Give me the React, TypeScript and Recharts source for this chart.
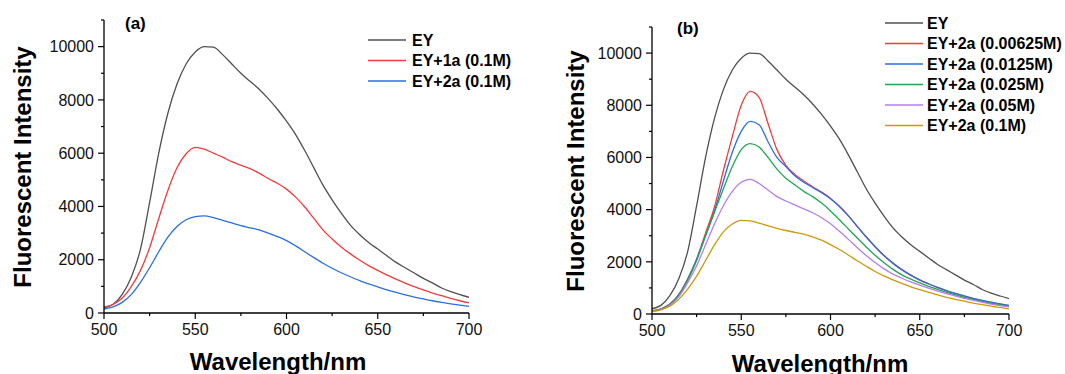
import React from 'react'
import { LineChart, Line, XAxis, YAxis } from 'recharts'

const FONT = '"Liberation Sans", Arial, sans-serif'

// wavelength grid (nm)
const wavelength = [
  500, 505, 510, 515, 520, 525, 530, 535, 540, 545, 550, 555, 560, 565, 570, 575, 580, 585, 590, 595, 600,
  605, 610, 615, 620, 625, 630, 635, 640, 645, 650, 655, 660, 665, 670, 675, 680, 685, 690, 695, 700,
]

const xTicks = [500, 525, 550, 575, 600, 625, 650, 675, 700]
const yTicks = [0, 1000, 2000, 3000, 4000, 5000, 6000, 7000, 8000, 9000, 10000, 11000]

const ey = [
  200, 330, 700, 1350, 2400, 4150, 6000, 7500, 8600, 9350, 9800, 10000, 9980, 9700, 9350, 9000, 8700, 8400, 8050, 7650, 7200,
  6700, 6100, 5450, 4800, 4250, 3750, 3300, 2950, 2650, 2400, 2150, 1900, 1700, 1500, 1300, 1130, 940, 800, 690, 590,
]
const ey1a = [
  230, 320, 560, 1000, 1600, 2450, 3550, 4600, 5450, 5980, 6220, 6150, 6000, 5850, 5680, 5550, 5420, 5250, 5050, 4870, 4650,
  4350, 3980, 3550, 3120, 2780, 2480, 2220, 1990, 1780, 1600, 1430, 1270, 1120, 990, 870, 750, 650, 550, 460, 380,
]
const ey2a = [
  150, 230, 400, 700, 1150, 1700, 2300, 2850, 3250, 3500, 3620, 3650, 3580, 3480, 3380, 3280, 3200, 3120, 3000, 2870, 2720,
  2520, 2300, 2080, 1870, 1680, 1510, 1360, 1220, 1090, 980, 870, 770, 680, 600, 530, 460, 400, 345, 295, 250,
]

// panel (b): EY + 2a at increasing concentration
const c00625 = [
  130, 200, 380, 750, 1350, 2100, 3100, 4100, 5500, 6800, 8000, 8530, 8300, 7300, 6300, 5700, 5350, 5100, 4880, 4670, 4430,
  4130, 3770, 3360, 2960, 2580, 2230, 1940, 1690, 1480, 1300, 1150, 1010, 890, 780, 680, 590, 510, 440, 380, 320,
]
const c0125 = [
  120, 190, 370, 730, 1320, 2100, 3000, 3950, 5100, 6200, 7000, 7380, 7250, 6600, 6000, 5650, 5300, 5050, 4850, 4650, 4420,
  4120, 3760, 3350, 2950, 2580, 2240, 1950, 1700, 1490, 1310, 1160, 1020, 900, 790, 690, 600, 520, 450, 390, 330,
]
const c025 = [
  110, 180, 360, 720, 1300, 2050, 3000, 3900, 4800, 5650, 6300, 6530, 6400, 6000, 5550, 5200, 4950, 4700, 4500, 4250, 3950,
  3610, 3260, 2910, 2570, 2250, 1960, 1710, 1500, 1340, 1190, 1060, 940, 830, 730, 640, 560, 480, 410, 350, 290,
]
const c05 = [
  100, 160, 330, 660, 1200, 1850, 2650, 3450, 4150, 4700, 5050, 5160, 5000, 4750, 4500, 4330, 4180, 4030, 3880, 3690, 3460,
  3170, 2860, 2540, 2240, 1970, 1730, 1530, 1370, 1230, 1110, 990, 880, 780, 690, 600, 520, 450, 380, 320, 270,
]
const c1 = [
  120, 170, 300, 560, 950, 1450, 2050, 2650, 3150, 3450, 3590, 3570, 3480, 3380, 3280, 3200, 3130, 3060, 2960, 2830, 2660,
  2470, 2260, 2040, 1830, 1630, 1460, 1310, 1170, 1040, 930, 830, 730, 640, 560, 490, 420, 360, 300, 250, 200,
]

const GRAY = '#505050'
const RED = '#f03c3c'
const BLUE = '#2a6fe0'

const seriesA = [
  { name: 'EY', values: ey, color: GRAY },
  { name: 'EY+1a (0.1M)', values: ey1a, color: RED },
  { name: 'EY+2a (0.1M)', values: ey2a, color: BLUE },
]
const seriesB = [
  { name: 'EY', values: ey, color: GRAY },
  { name: 'EY+2a (0.00625M)', values: c00625, color: RED },
  { name: 'EY+2a (0.0125M)', values: c0125, color: BLUE },
  { name: 'EY+2a (0.025M)', values: c025, color: '#22a552' },
  { name: 'EY+2a (0.05M)', values: c05, color: '#b57fe8' },
  { name: 'EY+2a (0.1M)', values: c1, color: '#cc9a0a' },
]

type Series = { name: string; values: number[]; color: string }

function buildRows(series: Series[]) {
  return wavelength.map((w, i) => {
    const row: Record<string, number> = { w }
    series.forEach((s, k) => (row['s' + k] = s.values[i]))
    return row
  })
}

function XTick({ x, y, payload }: any) {
  const major = payload.value % 50 === 0
  return (
    <g>
      <line x1={x} x2={x} y1={y} y2={y + (major ? 6 : 3)} stroke="#000" strokeWidth={1.2} />
      {major && (
        <text x={x} y={y + 22} textAnchor="middle" fontSize={16} fontFamily={FONT} fill="#111">
          {payload.value}
        </text>
      )}
    </g>
  )
}

function YTick({ x, y, payload }: any) {
  const major = payload.value % 2000 === 0
  return (
    <g>
      <line x1={x} x2={x - (major ? 6 : 3)} y1={y} y2={y} stroke="#000" strokeWidth={1.2} />
      {major && (
        <text x={x - 10} y={y} dy="0.36em" textAnchor="end" fontSize={16} fontFamily={FONT} fill="#111">
          {payload.value}
        </text>
      )}
    </g>
  )
}

function AxisTitle({ tx, ty, rot, text }: any) {
  return (
    <text
      x={tx}
      y={ty}
      transform={rot ? `rotate(${rot}, ${tx}, ${ty})` : undefined}
      textAnchor="middle"
      fontSize={24}
      fontWeight="bold"
      fontFamily={FONT}
      fill="#000"
    >
      {text}
    </text>
  )
}

interface PanelProps {
  series: Series[]
  left: number
  width: number
  plotLeft: number
  plotRight: number
  plotTop: number
  plotBottom: number
  yTitle: [number, number]
  xTitle: [number, number]
}

function Panel({ series, left, width, plotLeft, plotRight, plotTop, plotBottom, yTitle, xTitle }: PanelProps) {
  const rows = buildRows(series)
  return (
    <div style={{ position: 'absolute', left, top: 0 }}>
      <LineChart
        width={width}
        height={374}
        data={rows}
        margin={{ top: plotTop, right: width - plotRight, bottom: 0, left: 0 }}
      >
        <XAxis
          dataKey="w"
          type="number"
          domain={[500, 700]}
          ticks={xTicks}
          interval={0}
          height={374 - plotBottom}
          tickSize={0}
          tickMargin={0}
          tickLine={false}
          tick={<XTick />}
          axisLine={{ stroke: '#000', strokeWidth: 1.3 }}
          allowDataOverflow
          label={<AxisTitle tx={xTitle[0]} ty={xTitle[1]} text="Wavelength/nm" />}
        />
        <YAxis
          type="number"
          domain={[0, 11000]}
          ticks={yTicks}
          interval={0}
          width={plotLeft}
          tickSize={0}
          tickMargin={0}
          tickLine={false}
          tick={<YTick />}
          axisLine={{ stroke: '#000', strokeWidth: 1.3 }}
          allowDataOverflow
          label={<AxisTitle tx={yTitle[0]} ty={yTitle[1]} rot={-90} text="Fluorescent Intensity" />}
        />
        {series.map((s, k) => (
          <Line
            key={s.name + k}
            dataKey={'s' + k}
            type="monotone"
            stroke={s.color}
            strokeWidth={1.3}
            dot={false}
            activeDot={false}
            isAnimationActive={false}
          />
        ))}
      </LineChart>
    </div>
  )
}

function LegendBlock({ series, lineX, textX, rowY }: { series: Series[]; lineX: [number, number]; textX: number; rowY: number[] }) {
  return (
    <g>
      {series.map((s, i) => (
        <g key={s.name + i}>
          <line x1={lineX[0]} x2={lineX[1]} y1={rowY[i]} y2={rowY[i]} stroke={s.color} strokeWidth={1.6} />
          <text x={textX} y={rowY[i]} dy="0.36em" fontSize={16} fontWeight="bold" fontFamily={FONT} fill="#000">
            {s.name}
          </text>
        </g>
      ))}
    </g>
  )
}

export default function App() {
  return (
    <div style={{ position: 'absolute', left: 0, top: 0, width: 1065, height: 374, background: '#fff', overflow: 'hidden' }}>
      <Panel
        series={seriesA}
        left={0}
        width={540}
        plotLeft={104}
        plotRight={469}
        plotTop={20}
        plotBottom={313}
        yTitle={[31, 167]}
        xTitle={[278, 370]}
      />
      <Panel
        series={seriesB}
        left={540}
        width={525}
        plotLeft={112}
        plotRight={469}
        plotTop={27}
        plotBottom={314}
        yTitle={[44, 171]}
        xTitle={[280, 372]}
      />
      <svg width={1065} height={374} style={{ position: 'absolute', left: 0, top: 0, pointerEvents: 'none' }}>
        <text x={125} y={28.5} fontSize={17} fontWeight="bold" fontFamily={FONT}>(a)</text>
        <text x={677} y={33.5} fontSize={17} fontWeight="bold" fontFamily={FONT}>(b)</text>
        <LegendBlock series={seriesA} lineX={[368, 406]} textX={412} rowY={[40, 60.5, 81]} />
        <LegendBlock series={seriesB} lineX={[885, 923]} textX={927} rowY={[23, 43.5, 64, 84.5, 105, 125.5]} />
      </svg>
    </div>
  )
}
